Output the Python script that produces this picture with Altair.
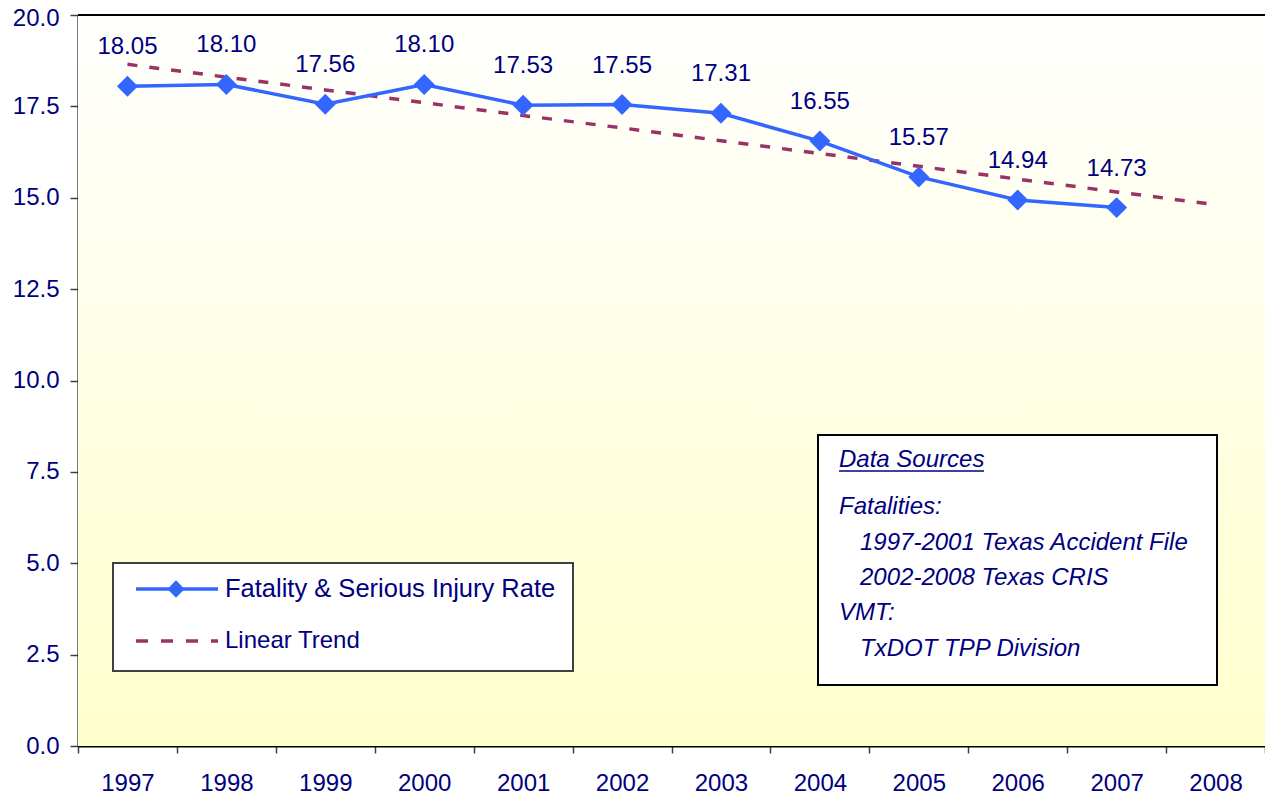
import altair as alt
import pandas as pd

# ---- data ----
years = ["1997", "1998", "1999", "2000", "2001", "2002", "2003", "2004", "2005", "2006", "2007", "2008"]
rate_years = ["1997", "1998", "1999", "2000", "2001", "2002", "2003", "2004", "2005", "2006", "2007"]
rates = [18.05, 18.10, 17.56, 18.10, 17.53, 17.55, 17.31, 16.55, 15.57, 14.94, 14.73]
rate_labels = ["18.05", "18.10", "17.56", "18.10", "17.53", "17.55", "17.31", "16.55", "15.57", "14.94", "14.73"]
trend = [18.65, 18.30, 17.95, 17.60, 17.25, 16.91, 16.56, 16.21, 15.86, 15.51, 15.16, 14.81]
y_ticks = [0, 2.5, 5, 7.5, 10, 12.5, 15, 17.5, 20]

title_text = "Fatalities/100K Population"
legend_items = ["Fatality & Serious Injury Rate", "Linear Trend"]
source_lines = ["Fatalities:", "1997-2001 Texas Accident File", "2002-2008 Texas CRIS", "VMT:", "TxDOT TPP Division"]
source_heading = "Data Sources"

# ---- styling ----
W, H = 1187, 731
NAVY = "#000080"
BLUE = "#3366ff"
MAROON = "#993366"
FONT = "Liberation Sans"
FS = 24

rate_df = pd.DataFrame({"year": rate_years, "rate": rates, "label": rate_labels})
trend_df = pd.DataFrame({"year": years, "trend": trend})
one = pd.DataFrame({"k": [0]})

xscale = alt.Scale(type="band", domain=years, paddingInner=0, paddingOuter=0)
yscale = alt.Scale(domain=[0, 20], nice=False, zero=True)

x_enc = alt.X(
    "year:N",
    scale=xscale,
    axis=alt.Axis(
        title=None, labelAngle=0, tickBand="extent", grid=False,
        labelFontSize=FS, labelColor=NAVY, labelFont=FONT, labelPadding=18,
        tickSize=7, tickColor="#404040", tickWidth=1.5,
        domainColor="black", domainWidth=2,
    ),
)

# background gradient
bg = alt.Chart(one).mark_rect(
    color=alt.LinearGradient(
        gradient="linear", x1=0, y1=0, x2=0, y2=1,
        stops=[alt.GradientStop(color="#fffffe", offset=0),
               alt.GradientStop(color="#ffffcc", offset=1)],
    )
).encode(x=alt.value(0), x2=alt.value(W), y=alt.value(0), y2=alt.value(H))

# axes holder (y axis with gridlines)
yaxis = alt.Chart(trend_df).mark_line(opacity=0).encode(
    x=x_enc,
    y=alt.Y(
        "trend:Q", scale=yscale,
        axis=alt.Axis(
            title=None, values=y_ticks, format=".1f", grid=True,
            gridColor="#666666", gridWidth=1,
            labelFontSize=FS, labelColor=NAVY, labelFont=FONT, labelPadding=11,
            labelOffset={"condition": {"test": "datum.value >= 20", "value": 3}, "value": 0},
            tickSize=8, tickColor="#404040", tickWidth=1.5,
            domainColor="black", domainWidth=2,
        ),
    ),
)

top_rule = alt.Chart(one).mark_rule(color="black", strokeWidth=2).encode(y=alt.datum(20))

trend_line = alt.Chart(trend_df).mark_line(
    color=MAROON, strokeWidth=3.5, strokeDash=[10, 12]
).encode(x=alt.X("year:N", scale=xscale), y=alt.Y("trend:Q", scale=yscale))

rate_line = alt.Chart(rate_df).mark_line(
    color=BLUE, strokeWidth=3.5,
    point=alt.OverlayMarkDef(shape="diamond", filled=True, color=BLUE, size=440, opacity=1),
).encode(x=alt.X("year:N", scale=xscale), y=alt.Y("rate:Q", scale=yscale))

rate_text = alt.Chart(rate_df).mark_text(
    dy=-39, fontSize=FS, font=FONT, color=NAVY, baseline="middle", align="center"
).encode(x=alt.X("year:N", scale=xscale), y=alt.Y("rate:Q", scale=yscale), text="label:N")

# title (cut off at the top in the reference)
title = alt.Chart(one).mark_text(
    text=title_text, fontSize=FS, font=FONT, fontWeight="bold", color=NAVY,
    align="center", baseline="bottom",
).encode(x=alt.value(602), y=alt.value(-8))

# legend box (drawn)
leg_box = alt.Chart(one).mark_rect(fill="white", stroke="#404040", strokeWidth=2).encode(
    x=alt.value(35), x2=alt.value(495), y=alt.value(548), y2=alt.value(656)
)
leg_line1 = alt.Chart(one).mark_rule(color=BLUE, strokeWidth=3.5).encode(
    x=alt.value(58), x2=alt.value(140), y=alt.value(574)
)
leg_pt1 = alt.Chart(one).mark_point(shape="diamond", filled=True, color=BLUE, size=300, opacity=1).encode(
    x=alt.value(98), y=alt.value(574)
)
leg_line2 = alt.Chart(one).mark_rule(color=MAROON, strokeWidth=3.5, strokeDash=[12, 13]).encode(
    x=alt.value(58), x2=alt.value(140), y=alt.value(626)
)
leg_t1 = alt.Chart(one).mark_text(
    text=legend_items[0], fontSize=25.5, font=FONT, color=NAVY, align="left", baseline="middle"
).encode(x=alt.value(147), y=alt.value(574))
leg_t2 = alt.Chart(one).mark_text(
    text=legend_items[1], fontSize=FS, font=FONT, color=NAVY, align="left", baseline="middle"
).encode(x=alt.value(147), y=alt.value(626))

# data sources box
src_box = alt.Chart(one).mark_rect(fill="white", stroke="black", strokeWidth=2).encode(
    x=alt.value(740), x2=alt.value(1139), y=alt.value(420), y2=alt.value(670)
)
src_head = alt.Chart(one).mark_text(
    text=source_heading, fontSize=FS, font=FONT, fontStyle="italic", color=NAVY,
    align="left", baseline="middle",
).encode(x=alt.value(761), y=alt.value(445))
src_ul = alt.Chart(one).mark_rule(color=NAVY, strokeWidth=1.5).encode(
    x=alt.value(761), x2=alt.value(906), y=alt.value(456)
)
src_x = [761, 782, 782, 761, 782]
src_y = [492, 528, 563, 598, 634]
src_texts = [
    alt.Chart(one).mark_text(
        text=t, fontSize=FS, font=FONT, fontStyle="italic", color=NAVY,
        align="left", baseline="middle",
    ).encode(x=alt.value(xx), y=alt.value(yy))
    for t, xx, yy in zip(source_lines, src_x, src_y)
]

chart = alt.layer(
    bg, yaxis, top_rule, trend_line, rate_line, rate_text, title,
    leg_box, leg_line1, leg_pt1, leg_line2, leg_t1, leg_t2,
    src_box, src_head, src_ul, *src_texts,
).properties(
    width=W, height=H,
    autosize=alt.AutoSizeParams(type="none"),
    padding={"left": 70, "top": 7, "right": 0, "bottom": 50},
    background="white",
).configure_view(stroke="#808080", strokeWidth=1)

chart.save("out.html", embed_options={"renderer": "svg", "actions": False})
